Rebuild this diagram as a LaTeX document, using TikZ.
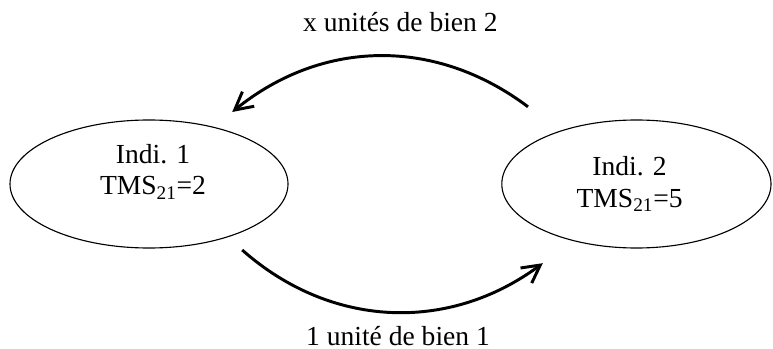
\documentclass[tikz,border=0pt]{standalone}
\usepackage{fontspec}
\setmainfont{Liberation Serif}
\usetikzlibrary{arrows.meta, positioning, shapes.geometric}

\begin{document}
\begin{tikzpicture}[
        agent/.style={ellipse, draw, line width=0.8pt, inner sep=0pt, minimum height=3.2cm},
        tms/.style={align=center, font=\fontsize{19.6}{22.5}\selectfont},
        trade/.style={line width=2.1pt, -{Straight Barb[length=4.4mm, width=4.7mm]}},
        quantity/.style={anchor=base, font=\fontsize{19.6}{22.5}\selectfont}
    ]
        \useasboundingbox (0,0) rectangle (19.325,-8.725);

        % Individual 1
        \node[agent, minimum width=6.95cm] (ind1) at (3.725,-4.6) {};
        \node[tms] (tms1) at (3.825,-4.29) {Indi. 1\\TMS\textsubscript{21}=2};

        % Individual 2
        \node[agent, minimum width=6.73cm] (ind2) at (15.91,-4.6) {};
        \node[tms] (tms2) at (15.74,-4.61) {Indi. 2\\TMS\textsubscript{21}=5};

        % Exchanges
        \draw[trade] ([shift={(-2.71,1.93)}]ind2.center) to[bend right=38] ([shift={(2.08,1.8)}]ind1.center);
        \draw[trade] ([shift={(2.33,-1.65)}]ind1.center) to[bend right=39] ([shift={(-2.34,-1.98)}]ind2.center);

        % Quantities
        \node[quantity] (bien2) at (10.01,-0.8) {x unités de bien 2};
        \node[quantity] (bien1) at (9.95,-8.625) {1 unité de bien 1};
    \end{tikzpicture}
\end{document}
